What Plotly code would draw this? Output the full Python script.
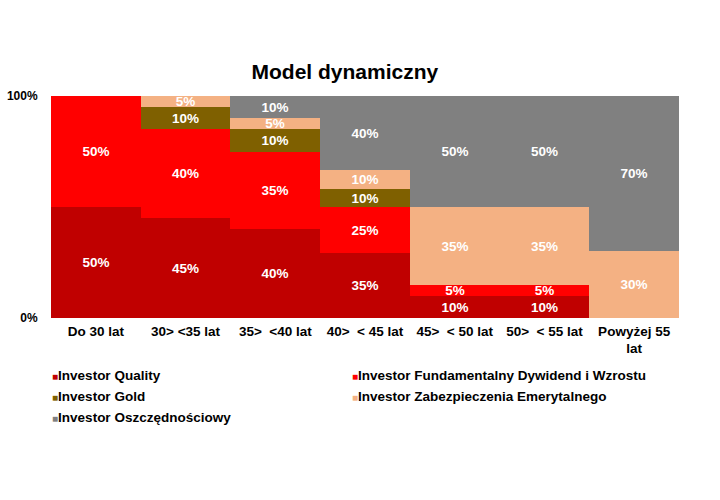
import plotly.graph_objects as go

categories = ["Do 30 lat", "30> <35 lat", "35>  <40 lat", "40>  < 45 lat",
              "45>  < 50 lat", "50>  < 55 lat", "Powyżej 55<br>lat"]
series_names = ["Investor Quality", "Investor Fundamentalny Dywidend i Wzrostu",
                "Investor Gold", "Investor Zabezpieczenia Emerytalnego",
                "Investor Oszczędnościowy"]
quality = [50, 45, 40, 35, 10, 10, 0]
fundamentalny = [50, 40, 35, 25, 5, 5, 0]
gold = [0, 10, 10, 10, 0, 0, 0]
zabezpieczenia = [0, 5, 5, 10, 35, 35, 30]
oszczednosciowy = [0, 0, 10, 40, 50, 50, 70]
colors = ["#C00000", "#FF0000", "#7F6000", "#F4B183", "#808080"]
legend_of = ["legend", "legend2", "legend", "legend2", "legend"]

FONT = "Liberation Sans, Arial, sans-serif"
fig = go.Figure()
for name, vals, col in zip(series_names,
                           [quality, fundamentalny, gold, zabezpieczenia, oszczednosciowy],
                           colors):
    fig.add_trace(go.Bar(
        x=categories, y=vals, name=name, legendgroup=name, showlegend=False,
        marker=dict(color=col, line=dict(width=0)),
        text=[f"<b>{v}%</b>" if v else "" for v in vals],
        textposition="inside", insidetextanchor="middle", textangle=0,
        constraintext="none",
        textfont=dict(color="white", size=13.5, family=FONT),
    ))
# legend entries: compact square marker drawn as glyph before the name
for name, col, lg in zip(series_names, colors, legend_of):
    fig.add_trace(go.Scatter(
        x=[None], y=[None], mode="markers", legendgroup=name, legend=lg,
        marker=dict(size=0.1, color="rgba(0,0,0,0)"),
        name=f"<span style='color:{col};font-size:10px'>■</span><b>{name}</b>",
    ))

legend_common = dict(orientation="v", yanchor="top", xanchor="left", y=-0.189,
                     traceorder="normal", itemwidth=30, tracegroupgap=0,
                     bgcolor="rgba(0,0,0,0)",
                     font=dict(size=13.5, color="black", family=FONT))
fig.update_layout(
    barmode="stack", barnorm="percent", bargap=0,
    width=720, height=500,
    margin=dict(l=51, r=41, t=96, b=182, autoexpand=False),
    paper_bgcolor="white", plot_bgcolor="white",
    font=dict(family=FONT, size=12, color="black"),
    title=dict(text="<b>Model dynamiczny</b>", x=0.479, xanchor="center",
               y=1 - 72 / 500, yanchor="middle", font=dict(size=21, color="black")),
    xaxis=dict(showgrid=False, showline=False, ticks="", automargin=False,
               tickvals=categories, ticktext=[f"<b>{c}</b>" for c in categories],
               ticklabelstandoff=3,
               tickfont=dict(size=13.5, color="black", family=FONT)),
    yaxis=dict(range=[0, 100], tickvals=[0, 100], ticktext=["<b>0%</b>", "<b>100%</b>"],
               showgrid=False, zeroline=False, showline=False, automargin=False,
               ticks="outside", ticklen=10, tickcolor="rgba(0,0,0,0)",
               tickfont=dict(size=12, color="black", family=FONT)),
    legend=dict(x=-0.062, **legend_common),
    legend2=dict(x=0.4156, **legend_common),
    showlegend=True,
)

fig.write_html("out.html")
